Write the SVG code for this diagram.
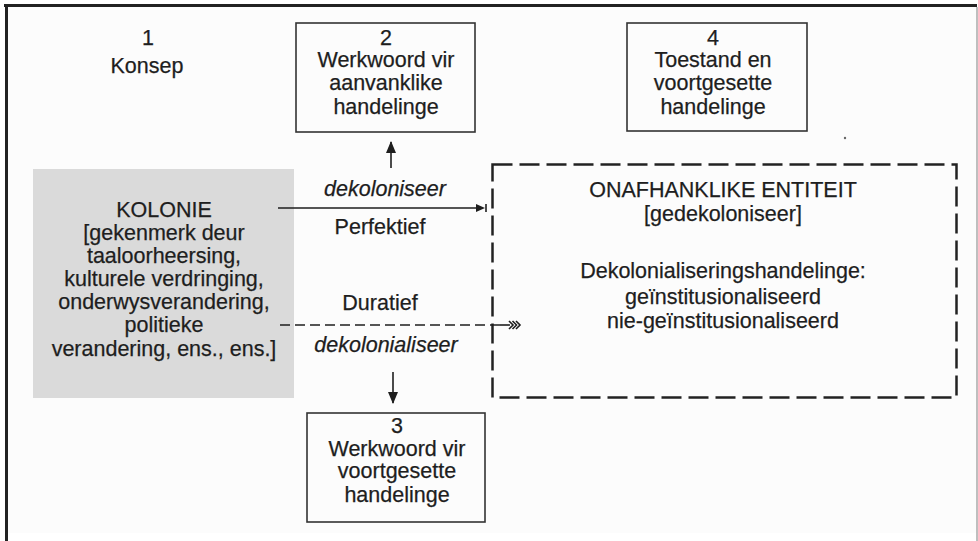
<svg xmlns="http://www.w3.org/2000/svg" width="978" height="541" viewBox="0 0 978 541">
<defs>
<style>
text{font-family:"Liberation Sans",Arial,sans-serif;font-size:21.5px;fill:#1e1e1e;text-anchor:middle;stroke:#1e1e1e;stroke-width:0.25}
.it{font-style:italic}
.box{fill:none;stroke:#333;stroke-width:1.6}
.conn{stroke:#1e1e1e;stroke-width:1.6;fill:none}
</style>
<marker id="head" markerWidth="12" markerHeight="12" refX="11" refY="6" orient="auto" markerUnits="userSpaceOnUse" viewBox="0 0 12 12">
<path d="M0 1 L12 6 L0 11 Z" fill="#1e1e1e"/>
</marker>
</defs>
<rect x="0" y="0" width="978" height="541" fill="#ffffff"/>
<rect x="5" y="5" width="972" height="528" fill="#fcfcfc"/>
<line x1="4" y1="5.5" x2="977" y2="5.5" stroke="#222" stroke-width="3"/>
<line x1="6.5" y1="4" x2="6.5" y2="541" stroke="#222" stroke-width="3"/>
<line x1="977" y1="7" x2="977" y2="541" stroke="#aaa" stroke-width="1.5"/>

<g id="node1">
<text x="148" y="45">1</text>
<text x="147" y="73">Konsep</text>
</g>

<g id="node2">
<rect class="box" x="296" y="23" width="179" height="109"/>
<text x="386" y="45">2</text>
<text x="386" y="67">Werkwoord vir</text>
<text x="386" y="90">aanvanklike</text>
<text x="386" y="114">handelinge</text>
</g>

<g id="node4">
<rect class="box" x="627" y="23" width="180" height="108"/>
<text x="713" y="45">4</text>
<text x="713" y="67">Toestand en</text>
<text x="713" y="90">voortgesette</text>
<text x="713" y="114">handelinge</text>
</g>

<g id="kolonie">
<rect x="33" y="169" width="261" height="229" fill="#dadada"/>
<text x="164" y="217">KOLONIE</text>
<text x="164" y="240">[gekenmerk deur</text>
<text x="164" y="263">taaloorheersing,</text>
<text x="164" y="286">kulturele verdringing,</text>
<text x="164" y="309">onderwysverandering,</text>
<text x="164" y="332">politieke</text>
<text x="164" y="356">verandering, ens., ens.]</text>
</g>

<g id="entiteit">
<rect x="492.5" y="164.5" width="464" height="233" fill="none" stroke="#222" stroke-width="2.5" stroke-dasharray="20 7"/>
<text x="723" y="197">ONAFHANKLIKE ENTITEIT</text>
<text x="723" y="221">[gedekoloniseer]</text>
<text x="723" y="278">Dekolonialiseringshandelinge:</text>
<text x="723" y="304">geïnstitusionaliseerd</text>
<text x="723" y="328">nie-geïnstitusionaliseerd</text>
</g>

<g id="node3">
<rect class="box" x="307" y="413" width="178" height="109"/>
<text x="397" y="433">3</text>
<text x="397" y="456">Werkwoord vir</text>
<text x="397" y="478">voortgesette</text>
<text x="397" y="502">handelinge</text>
</g>

<g id="connectors">
<line class="conn" x1="391" y1="168" x2="391" y2="142" marker-end="url(#head)"/>
<line class="conn" x1="393" y1="372" x2="393" y2="403" marker-end="url(#head)"/>
<line class="conn" x1="278" y1="208" x2="478" y2="208"/>
<path d="M476 204 L485 208 L476 212 Z" fill="#1e1e1e"/>
<line x1="486" y1="204" x2="486" y2="212" stroke="#1e1e1e" stroke-width="1.6"/>
<line class="conn" x1="280" y1="325" x2="500" y2="325" stroke-dasharray="10 5"/>
<line class="conn" x1="500" y1="325" x2="510" y2="325"/>
<path d="M509 321 L513 325 L509 329 M512.5 321 L516.5 325 L512.5 329 M516 321 L520 325 L516 329" fill="none" stroke="#1e1e1e" stroke-width="1.6"/>
<text class="it" x="385" y="196">dekoloniseer</text>
<text x="380" y="234">Perfektief</text>
<text x="380" y="310">Duratief</text>
<text class="it" x="386" y="352">dekolonialiseer</text>
</g>
<circle cx="845" cy="138" r="1.2" fill="#666"/>
</svg>
